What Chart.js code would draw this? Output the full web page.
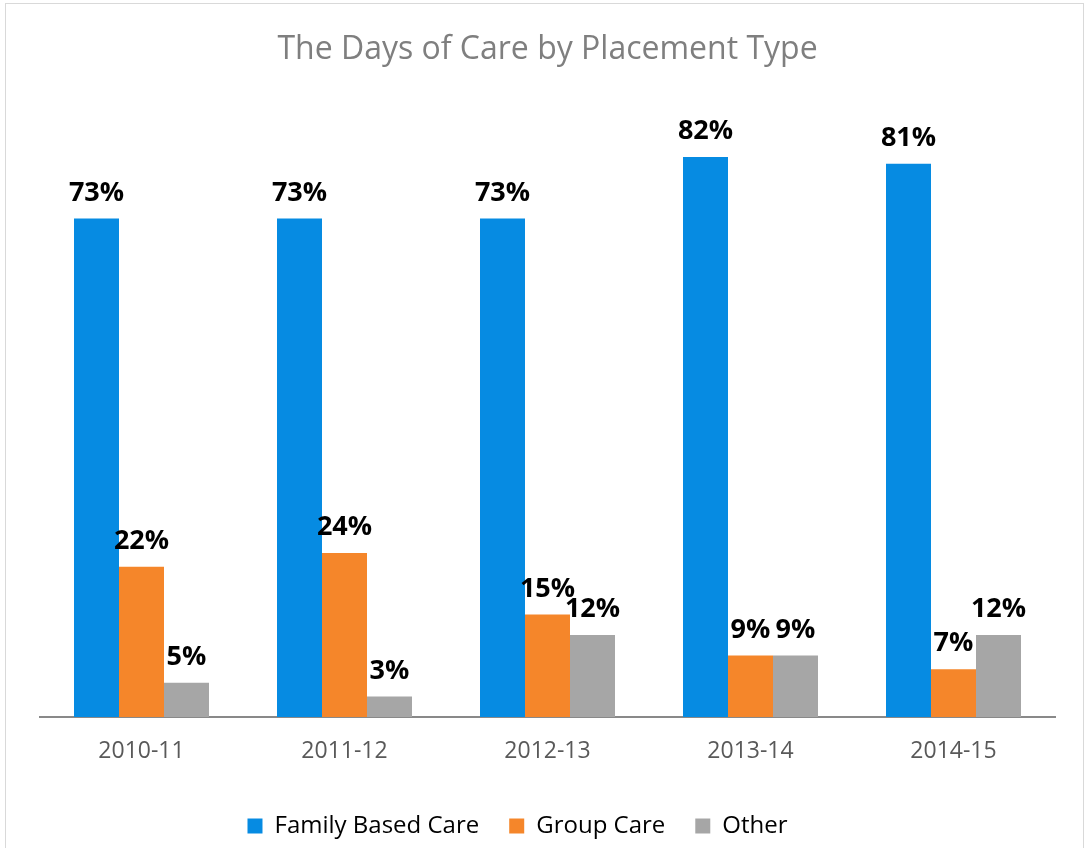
<!DOCTYPE html>
<html>
<head>
<meta charset="utf-8">
<script src="https://cdn.jsdelivr.net/npm/chart.js@4.4.0/dist/chart.umd.min.js"></script>
<style>
  html, body { margin: 0; padding: 0; background: #fff; }
  #wrap { position: relative; width: 1091px; height: 848px; }
</style>
</head>
<body>
<div id="wrap"><canvas id="chart" width="1091" height="848"></canvas></div>
<script>
const years = ['2010-11', '2011-12', '2012-13', '2013-14', '2014-15'];
const familyBased = [73, 73, 73, 82, 81];
const groupCare = [22, 24, 15, 9, 7];
const other = [5, 3, 12, 9, 12];

const FONT = '"Open Sans", sans-serif';

// bold % labels over each bar
const barLabels = {
  id: 'barLabels',
  afterDatasetsDraw(chart) {
    const ctx = chart.ctx;
    ctx.save();
    ctx.font = 'bold 27px ' + FONT;
    ctx.fillStyle = '#000';
    ctx.textAlign = 'center';
    ctx.textBaseline = 'bottom';
    chart.data.datasets.forEach((ds, i) => {
      chart.getDatasetMeta(i).data.forEach((bar, j) => {
        ctx.fillText(Math.round(ds.data[j]) + '%', bar.x, bar.y - 12);
      });
    });
    ctx.restore();
  }
};

// thin frame round the chart, like the office chart border
const frame = {
  id: 'frame',
  beforeDraw(chart) {
    const ctx = chart.ctx;
    ctx.save();
    ctx.strokeStyle = '#d9d9d9';
    ctx.lineWidth = 1;
    ctx.strokeRect(5.5, 3.5, 1078, 900);
    ctx.restore();
  }
};

// legend sits a bit left of centre in the original
const legendShift = {
  id: 'legendShift',
  afterLayout(chart) {
    chart.legend.left -= 30;
    chart.legend.right -= 30;
  }
};

new Chart(document.getElementById('chart'), {
  type: 'bar',
  data: {
    labels: years,
    datasets: [
      { label: 'Family Based Care', data: familyBased, backgroundColor: '#068be2' },
      { label: 'Group Care', data: groupCare, backgroundColor: '#f5862a' },
      { label: 'Other', data: other, backgroundColor: '#a6a6a6' }
    ]
  },
  options: {
    responsive: false,
    animation: false,
    layout: { padding: { left: 40, right: 36, top: 0, bottom: 0 } },
    datasets: { bar: { categoryPercentage: 0.665, barPercentage: 1.0 } },
    plugins: {
      title: {
        display: true,
        text: 'The Days of Care by Placement Type',
        color: '#7f7f7f',
        font: { family: FONT, size: 32, weight: 'normal' },
        padding: { top: 31, bottom: 33 }
      },
      legend: {
        position: 'bottom',
        labels: {
          color: '#000',
          font: { family: FONT, size: 24 },
          boxWidth: 15,
          boxHeight: 15,
          padding: 30
        }
      },
      tooltip: { enabled: false }
    },
    scales: {
      x: {
        grid: { display: false, drawTicks: false },
        border: { display: true, color: '#898989', width: 2 },
        ticks: { color: '#595959', font: { family: FONT, size: 23 }, padding: 21 },
        afterFit(scale) { scale.height = 67; }
      },
      y: {
        display: false,
        min: 0,
        max: 90
      }
    }
  },
  plugins: [frame, legendShift, barLabels]
});
</script>
</body>
</html>
